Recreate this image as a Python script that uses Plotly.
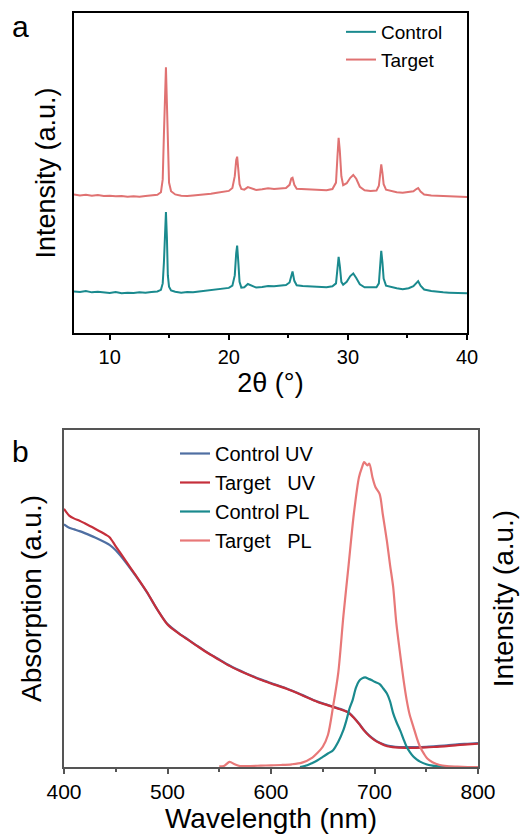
import plotly.graph_objects as go

# ---------------- Panel a: XRD ----------------
xrd_theta = [7.0, 7.5, 8.0, 8.5, 9.0, 9.5, 10.0, 10.5, 11.0, 11.5, 12.0, 12.5, 13.0, 13.5, 14.0,
             14.3, 14.45, 14.55, 14.65, 14.72, 14.8, 14.88, 14.98, 15.15, 15.5, 16.0, 16.5, 17.0,
             17.5, 18.0, 18.5, 19.0, 19.5, 20.0, 20.3, 20.5, 20.62, 20.7, 20.8, 20.9, 21.05, 21.3,
             21.6, 21.9, 22.3, 22.8, 23.3, 23.8, 24.3, 24.8, 25.1, 25.25, 25.35, 25.5, 25.7, 26.2,
             26.7, 27.2, 27.7, 28.2, 28.7, 29.0, 29.12, 29.22, 29.32, 29.45, 29.6, 29.9, 30.2,
             30.45, 30.7, 31.0, 31.4, 31.9, 32.4, 32.6, 32.72, 32.8, 32.9, 33.0, 33.2, 33.6, 34.1,
             34.6, 35.1, 35.5, 35.75, 35.9, 36.1, 36.4, 37.0, 37.5, 38.0, 38.5, 39.0, 39.5, 40.0]

xrd_control = [13.0, 12.8, 13.1, 12.7, 12.9, 12.6, 12.5, 12.8, 12.4, 12.6, 12.5, 12.7, 12.6, 12.8, 13.0,
               13.5, 15.5, 22.0, 34.0, 37.8, 30.0, 18.0, 14.5, 13.3, 12.9, 12.6, 12.8, 12.7,
               13.0, 13.2, 13.3, 13.6, 13.9, 14.1, 14.8, 18.0, 25.0, 27.3, 22.0, 16.0, 14.2, 14.3,
               15.3, 14.8, 14.2, 14.4, 14.7, 14.6, 14.8, 15.0, 15.8, 18.5, 19.2, 16.3, 14.9, 14.7,
               14.6, 14.5, 14.4, 14.3, 14.6, 15.5, 20.0, 23.8, 21.0, 16.0, 15.1, 16.0, 17.8,
               18.6, 17.2, 15.2, 14.3, 14.2, 14.3, 15.5, 22.0, 25.7, 22.0, 17.0, 14.8, 14.4, 14.0,
               13.7, 14.0, 14.6, 15.5, 16.2, 14.8, 13.6, 13.1, 12.8, 12.7, 12.6, 12.5, 12.6, 12.4]

xrd_target = [43.3, 43.0, 43.2, 42.9, 43.1, 42.8, 42.9, 42.7, 42.8, 42.6, 42.7, 42.6, 42.8, 42.9, 43.2,
              44.0, 48.0, 62.0, 78.0, 83.0, 72.0, 55.0, 47.0, 44.3, 43.3, 42.9, 42.8, 43.0,
              43.1, 43.3, 43.5, 43.8, 44.1, 44.4, 45.3, 49.0, 54.0, 55.1, 51.0, 46.5, 45.0, 44.8,
              45.6, 45.2, 44.7, 44.9, 45.2, 45.0, 45.1, 45.3, 46.3, 48.3, 48.5, 46.3, 45.1, 45.0,
              44.9, 44.8, 44.7, 44.6, 45.0, 47.0, 55.0, 61.0, 57.0, 49.0, 46.2, 46.8, 48.5,
              49.4, 48.2, 45.7, 44.6, 44.4, 44.5, 46.0, 50.0, 52.7, 50.0, 46.5, 44.8, 44.4, 44.0,
              43.8, 44.0, 44.3, 45.0, 45.3, 44.2, 43.3, 43.0, 42.9, 42.8, 42.7, 42.6, 42.6, 42.5]

# ---------------- Panel b: UV-vis absorption ----------------
uv_wl = [400, 405, 410, 415, 420, 430, 440, 444, 450, 460, 470, 480, 490, 500, 510, 520, 530, 540,
         550, 560, 575, 590, 600, 615, 630, 645, 655, 665, 670, 675, 680, 685, 690, 695, 700, 705,
         710, 715, 720, 730, 740, 750, 760, 770, 780, 790, 800]
uv_target = [76.6, 74.6, 73.7, 73.1, 72.3, 70.7, 69.0, 68.2, 65.5, 61.0, 56.6, 52.0, 46.8, 42.3,
             39.8, 37.7, 35.6, 33.6, 31.8, 30.0, 27.8, 25.9, 24.8, 23.2, 21.3, 19.3, 18.3, 17.3,
             16.8, 16.1, 14.6, 12.8, 10.8, 9.2, 8.0, 7.1, 6.4, 6.0, 5.8, 5.7, 5.7, 5.8, 6.0, 6.2,
             6.5, 6.7, 6.9]
uv_control = [72.0, 71.0, 70.5, 70.0, 69.4, 68.1, 66.6, 65.9, 64.3, 60.6, 56.4, 51.9, 46.8, 42.4,
              39.9, 37.8, 35.7, 33.7, 31.9, 30.1, 27.9, 26.0, 24.9, 23.3, 21.4, 19.4, 18.4, 17.4,
              16.9, 16.2, 14.7, 12.9, 10.9, 9.3, 8.1, 7.2, 6.6, 6.2, 6.0, 5.9, 5.9, 6.0, 6.2, 6.4,
              6.7, 6.9, 7.1]

# ---------------- Panel b: PL ----------------
pl_t_wl = [550, 555, 560, 565, 570, 580, 590, 600, 610, 620, 630, 640, 645, 650, 655, 660, 665,
           670, 675, 680, 685, 688, 690, 693, 695, 698, 701, 705, 708, 712, 715, 718, 721, 725,
           728, 731, 734, 737.5, 741, 744, 748, 751, 756, 763, 770, 780, 790, 800]
pl_target = [0.2, 0.4, 1.5, 0.8, 0.3, 0.3, 0.4, 0.5, 0.6, 0.8, 1.3, 2.8, 4.2, 6.0, 9.5, 18.0, 28.0,
             45.0, 60.0, 75.0, 86.0, 89.0, 90.5, 89.5, 90.0, 86.0, 83.0, 81.0, 75.0, 67.0, 60.0,
             53.5, 43.0, 33.0, 26.0, 20.0, 15.5, 12.0, 8.5, 6.0, 3.8, 2.5, 1.4, 0.6, 0.3, 0.1,
             0.0, 0.0]

pl_c_wl = [628, 635, 640, 645, 650, 655, 660, 665, 670, 673, 676, 679, 682, 685, 688, 691, 694,
           697, 700, 705, 708, 712, 715, 718, 721, 725, 728, 731, 734, 737.5, 741, 744, 750, 756,
           765, 780, 800]
pl_control = [0.0, 0.5, 1.2, 2.0, 3.0, 4.0, 5.0, 7.5, 11.0, 14.0, 17.5, 20.0, 23.5, 25.5, 26.3,
              26.6, 26.2, 25.8, 25.3, 24.6, 23.5, 21.8, 19.5, 16.0, 13.5, 10.7, 8.3, 6.0, 4.5,
              3.1, 2.2, 1.6, 0.8, 0.4, 0.1, 0.0, 0.0]

FONT = "Liberation Sans, Arial, sans-serif"
c_teal = "#1a8a8e"
c_salmon = "#e07272"
c_blue = "#4f6fa2"
c_red = "#c52f3b"

fig = go.Figure()

fig.add_trace(go.Scatter(x=xrd_theta, y=xrd_control, mode="lines", name="Control",
                         line=dict(color=c_teal, width=2), xaxis="x", yaxis="y", legend="legend"))
fig.add_trace(go.Scatter(x=xrd_theta, y=xrd_target, mode="lines", name="Target",
                         line=dict(color=c_salmon, width=2), xaxis="x", yaxis="y", legend="legend"))

sp = dict(shape="spline", smoothing=0.8)
fig.add_trace(go.Scatter(x=uv_wl, y=uv_control, mode="lines", name="Control UV",
                         line=dict(color=c_blue, width=2.2, **sp), xaxis="x2", yaxis="y2",
                         legend="legend2"))
fig.add_trace(go.Scatter(x=uv_wl, y=uv_target, mode="lines", name="Target\u00a0\u00a0\u00a0UV",
                         line=dict(color=c_red, width=2.2, **sp), xaxis="x2", yaxis="y2",
                         legend="legend2"))
fig.add_trace(go.Scatter(x=pl_c_wl, y=pl_control, mode="lines", name="Control PL",
                         line=dict(color=c_teal, width=2.2, **sp), xaxis="x2", yaxis="y3",
                         legend="legend2"))
fig.add_trace(go.Scatter(x=pl_t_wl, y=pl_target, mode="lines", name="Target\u00a0\u00a0\u00a0PL",
                         line=dict(color="#e87878", width=2.2, **sp), xaxis="x2", yaxis="y3",
                         legend="legend2"))

W, H = 531, 836

def px_x(p):
    return p / W

def px_y(p):
    return 1 - p / H

axis_a = dict(showline=True, linecolor="black", linewidth=1.5, mirror=True, showgrid=False,
              zeroline=False, automargin=False)
axis_b = dict(showline=True, linecolor="#555555", linewidth=1.5, mirror=True, showgrid=False,
              zeroline=False, automargin=False)

fig.update_layout(
    width=W, height=H,
    margin=dict(l=0, r=0, t=0, b=0, autoexpand=False),
    paper_bgcolor="white", plot_bgcolor="white",
    font=dict(family=FONT, color="black"),
    xaxis=dict(**axis_a, domain=[px_x(74), px_x(467)], range=[7, 40], anchor="y",
               tickvals=[10, 20, 30, 40], ticks="outside", ticklen=5, tickwidth=1.5,
               tickcolor="black", tickfont=dict(size=20),
               minor=dict(tickvals=[15, 25, 35], ticks="outside", ticklen=3, tickwidth=1.5,
                          tickcolor="black"),
               title=dict(text="2θ (°)", font=dict(size=27), standoff=3)),
    yaxis=dict(**axis_a, domain=[px_y(333), px_y(13)], range=[0, 100], anchor="x",
               showticklabels=False, ticks="",
               title=dict(text="Intensity (a.u.)", font=dict(size=27), standoff=9)),
    xaxis2=dict(**axis_b, domain=[px_x(64), px_x(478)], range=[400, 800], anchor="y2",
                tickvals=[400, 500, 600, 700, 800], ticks="outside", ticklen=5, tickwidth=1.5,
                tickcolor="#555555", tickfont=dict(size=21),
                minor=dict(tickvals=[450, 550, 650, 750], ticks="outside", ticklen=3,
                           tickwidth=1.5, tickcolor="#555555"),
                title=dict(text="Wavelength (nm)", font=dict(size=28), standoff=6)),
    yaxis2=dict(**axis_b, domain=[px_y(767), px_y(430)], range=[0, 100], anchor="x2",
                showticklabels=False, ticks="",
                title=dict(text="Absorption (a.u.)", font=dict(size=28), standoff=12)),
    yaxis3=dict(showline=False, showgrid=False, zeroline=False, range=[0, 100], automargin=False,
                overlaying="y2", side="right", anchor="x2", showticklabels=False, ticks="",
                title=dict(text="Intensity (a.u.)", font=dict(size=28), standoff=15)),
    legend=dict(x=px_x(341), y=px_y(13), xanchor="left", yanchor="top",
                bgcolor="rgba(0,0,0,0)", font=dict(size=19, family=FONT), tracegroupgap=0),
    legend2=dict(x=px_x(175), y=px_y(434), xanchor="left", yanchor="top",
                 bgcolor="rgba(0,0,0,0)", font=dict(size=20, family=FONT), tracegroupgap=0),
    annotations=[
        dict(text="a", x=px_x(10), y=px_y(8), xref="paper", yref="paper", xanchor="left",
             yanchor="top", showarrow=False, font=dict(size=30, family=FONT)),
        dict(text="b", x=px_x(10), y=px_y(433), xref="paper", yref="paper", xanchor="left",
             yanchor="top", showarrow=False, font=dict(size=30, family=FONT)),
    ],
)

fig.write_html("out.html")
